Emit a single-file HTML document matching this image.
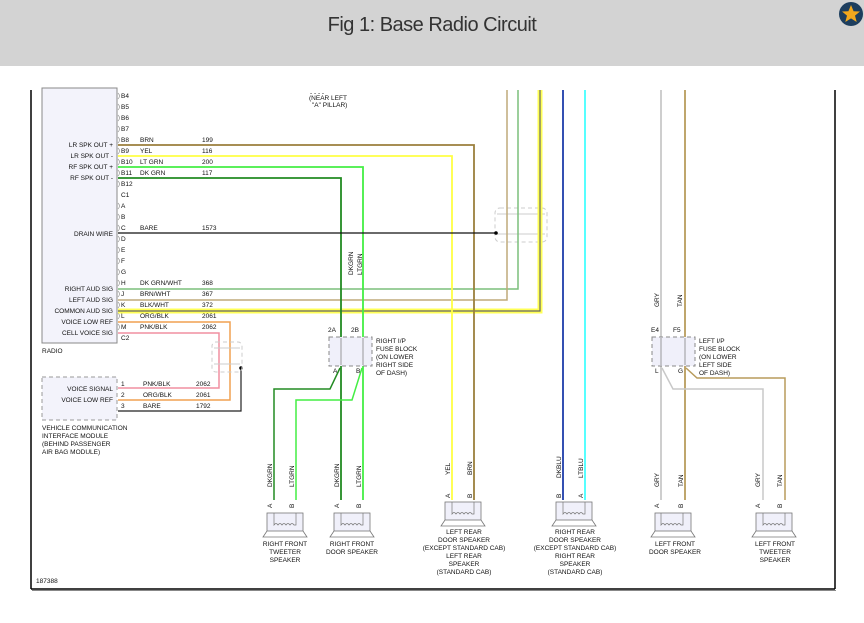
<!DOCTYPE html>
<html><head><meta charset="utf-8"><style>
html,body{margin:0;padding:0;background:#fff;}
body{width:864px;height:623px;overflow:hidden;position:relative;font-family:"Liberation Sans",sans-serif;}
.hdr{position:absolute;left:0;top:0;width:864px;height:66px;background:#d3d3d3;}
.hdr h1{margin:0;position:absolute;top:14px;left:0;width:864px;text-align:center;font-weight:normal;font-size:20px;color:#333;font-family:"Liberation Sans Narrow","Liberation Sans",sans-serif;letter-spacing:-0.5px;}
svg{position:absolute;left:0;top:0;}
svg text{font-family:"Liberation Sans",sans-serif;font-size:6.5px;fill:#111;}
</style></head><body>
<div class="hdr"><h1>Fig 1: Base Radio Circuit</h1></div>
<svg width="864" height="623" viewBox="0 0 864 623">
<circle cx="851" cy="14" r="12" fill="#1d3e5e"/>
<polygon points="851,5 853.6,11.2 860,11.5 855,15.6 856.7,22 851,18.4 845.3,22 847,15.6 842,11.5 848.4,11.2" fill="#f2a81d"/>
<line x1="31" y1="90" x2="31" y2="589" stroke="#000" stroke-width="1.5"/>
<line x1="835" y1="90" x2="835" y2="589" stroke="#000" stroke-width="1.5"/>
<line x1="31" y1="589" x2="835" y2="589" stroke="#000" stroke-width="1.5"/>
<line x1="32" y1="590.5" x2="836" y2="590.5" stroke="#888" stroke-width="1"/>
<rect x="42" y="88" width="75" height="255" fill="#f3f3fb" stroke="#888" stroke-width="1"/>
<text x="42" y="353">RADIO</text>
<g>
<text x="121" y="98">B4</text><text x="121" y="109">B5</text><text x="121" y="120">B6</text><text x="121" y="131">B7</text>
<text x="121" y="142">B8</text><text x="121" y="153">B9</text><text x="121" y="164">B10</text><text x="121" y="175">B11</text>
<text x="121" y="186">B12</text><text x="121" y="197">C1</text><text x="121" y="208">A</text><text x="121" y="219">B</text>
<text x="121" y="230">C</text><text x="121" y="241">D</text><text x="121" y="252">E</text><text x="121" y="263">F</text>
<text x="121" y="274">G</text><text x="121" y="285">H</text><text x="121" y="296">J</text><text x="121" y="307">K</text>
<text x="121" y="318">L</text><text x="121" y="329">M</text><text x="121" y="340">C2</text>
</g>
<g stroke="#999" fill="none" stroke-width="0.7">
<path d="M118,93 q3,3 0,6 M118,104 q3,3 0,6 M118,115 q3,3 0,6 M118,126 q3,3 0,6 M118,137 q3,3 0,6 M118,148 q3,3 0,6 M118,159 q3,3 0,6 M118,170 q3,3 0,6 M118,181 q3,3 0,6 M118,203 q3,3 0,6 M118,214 q3,3 0,6 M118,225 q3,3 0,6 M118,236 q3,3 0,6 M118,247 q3,3 0,6 M118,258 q3,3 0,6 M118,269 q3,3 0,6 M118,280 q3,3 0,6 M118,291 q3,3 0,6 M118,302 q3,3 0,6 M118,313 q3,3 0,6 M118,324 q3,3 0,6"/>
</g>
<g>
<text x="113" y="147" text-anchor="end">LR SPK OUT +</text>
<text x="113" y="158" text-anchor="end">LR SPK OUT -</text>
<text x="113" y="169" text-anchor="end">RF SPK OUT +</text>
<text x="113" y="180" text-anchor="end">RF SPK OUT -</text>
<text x="113" y="236" text-anchor="end">DRAIN WIRE</text>
<text x="113" y="291" text-anchor="end">RIGHT AUD SIG</text>
<text x="113" y="302" text-anchor="end">LEFT AUD SIG</text>
<text x="113" y="313" text-anchor="end">COMMON AUD SIG</text>
<text x="113" y="324" text-anchor="end">VOICE LOW REF</text>
<text x="113" y="335" text-anchor="end">CELL VOICE SIG</text>
</g>
<text x="140" y="142">BRN</text><text x="202" y="142">199</text>
<text x="140" y="153">YEL</text><text x="202" y="153">116</text>
<text x="140" y="164">LT GRN</text><text x="202" y="164">200</text>
<text x="140" y="175">DK GRN</text><text x="202" y="175">117</text>
<text x="140" y="230">BARE</text><text x="202" y="230">1573</text>
<text x="140" y="285">DK GRN/WHT</text><text x="202" y="285">368</text>
<text x="140" y="296">BRN/WHT</text><text x="202" y="296">367</text>
<text x="140" y="307">BLK/WHT</text><text x="202" y="307">372</text>
<text x="140" y="318">ORG/BLK</text><text x="202" y="318">2061</text>
<text x="140" y="329">PNK/BLK</text><text x="202" y="329">2062</text>
<text x="310" y="95">- - - -</text>
<text x="309" y="100">(NEAR LEFT</text>
<text x="312" y="107">"A" PILLAR)</text>
<rect x="495" y="208" width="52" height="34" rx="5" fill="none" stroke="#ccc" stroke-dasharray="4,3"/>
<line x1="497" y1="214" x2="545" y2="214" stroke="#ccc"/>
<line x1="497" y1="234" x2="545" y2="234" stroke="#ccc"/>
<g fill="none">
<polyline points="540,90 540,311 118,311" stroke="#ffff55" stroke-width="5"/>
<polyline points="540,90 540,311 118,311" stroke="#666" stroke-width="1.2"/>
<polyline points="518,90 518,289 118,289" stroke="#7cbf7c" stroke-width="1.5"/>
<polyline points="507,90 507,300 118,300" stroke="#bfaa7a" stroke-width="1.5"/>
<polyline points="118,145 474,145 474,500" stroke="#9b7f3c" stroke-width="1.8"/>
<polyline points="118,156 452,156 452,500" stroke="#ffff44" stroke-width="1.8"/>
<polyline points="118,167 363,167 363,340" stroke="#44ee44" stroke-width="1.8"/>
<polyline points="118,178 341,178 341,340" stroke="#228b22" stroke-width="1.8"/>
<polyline points="118,233 496,233" stroke="#111" stroke-width="1.3"/>
<line x1="563" y1="90" x2="563" y2="500" stroke="#1e3caa" stroke-width="1.8"/>
<line x1="585" y1="90" x2="585" y2="500" stroke="#44ffff" stroke-width="1.8"/>
<line x1="661" y1="90" x2="661" y2="340" stroke="#c8c8c8" stroke-width="1.8"/>
<line x1="685" y1="90" x2="685" y2="340" stroke="#b89c5c" stroke-width="1.8"/>
<polyline points="341,366 341,500" stroke="#228b22" stroke-width="1.8"/>
<polyline points="363,366 363,500" stroke="#44ee44" stroke-width="1.8"/>
<polyline points="340,368 330,389 274,389 274,500" stroke="#228b22" stroke-width="1.5"/>
<polyline points="362,368 352,400 296,400 296,500" stroke="#44ee44" stroke-width="1.5"/>
<polyline points="661,366 661,500" stroke="#c8c8c8" stroke-width="1.8"/>
<polyline points="685,366 685,500" stroke="#b89c5c" stroke-width="1.8"/>
<polyline points="662,368 673,389 763,389 763,500" stroke="#c8c8c8" stroke-width="1.5"/>
<polyline points="686,368 697,378 785,378 785,500" stroke="#b89c5c" stroke-width="1.5"/>
<polyline points="118,322 230,322 230,400 118,400" stroke="#f0a050" stroke-width="1.5"/>
<polyline points="118,333 219,333 219,388 118,388" stroke="#f08fa0" stroke-width="1.5"/>
<polyline points="241,368 241,411 118,411" stroke="#222" stroke-width="1.2"/>
</g>
<circle cx="496" cy="233" r="1.8" fill="#000"/>
<circle cx="241" cy="368" r="1.8" fill="#000"/>
<rect x="212" y="342" width="30" height="30" rx="4" fill="none" stroke="#ccc" stroke-dasharray="4,3"/>
<line x1="214" y1="348" x2="240" y2="348" stroke="#ccc"/>
<line x1="214" y1="364" x2="240" y2="364" stroke="#ccc"/>
<rect x="42" y="377" width="75" height="43" fill="#f3f3fb" stroke="#999" stroke-dasharray="4,3"/>
<text x="113" y="391" text-anchor="end">VOICE SIGNAL</text>
<text x="113" y="402" text-anchor="end">VOICE LOW REF</text>
<text x="121" y="386">1</text><text x="121" y="397">2</text><text x="121" y="408">3</text>
<text x="143" y="386">PNK/BLK</text><text x="196" y="386">2062</text>
<text x="143" y="397">ORG/BLK</text><text x="196" y="397">2061</text>
<text x="143" y="408">BARE</text><text x="196" y="408">1792</text>
<text x="42" y="430">VEHICLE COMMUNICATION</text>
<text x="42" y="438">INTERFACE MODULE</text>
<text x="42" y="446">(BEHIND PASSENGER</text>
<text x="42" y="454">AIR BAG MODULE)</text>
<g>
<rect x="329" y="337" width="43" height="29" fill="#f0f0fa" stroke="#888" stroke-dasharray="4,3"/>
<line x1="341" y1="338" x2="341" y2="365" stroke="#999"/>
<line x1="363" y1="338" x2="363" y2="365" stroke="#999"/>
<text x="328" y="332">2A</text><text x="351" y="332">2B</text>
<text x="333" y="373">A</text><text x="356" y="373">B</text>
<text x="376" y="343">RIGHT I/P</text><text x="376" y="351">FUSE BLOCK</text><text x="376" y="359">(ON LOWER</text><text x="376" y="367">RIGHT SIDE</text><text x="376" y="375">OF DASH)</text>
<rect x="652" y="337" width="43" height="29" fill="#f0f0fa" stroke="#888" stroke-dasharray="4,3"/>
<line x1="661" y1="338" x2="661" y2="365" stroke="#999"/>
<line x1="685" y1="338" x2="685" y2="365" stroke="#999"/>
<text x="651" y="332">E4</text><text x="673" y="332">F5</text>
<text x="655" y="373">L</text><text x="678" y="373">G</text>
<text x="699" y="343">LEFT I/P</text><text x="699" y="351">FUSE BLOCK</text><text x="699" y="359">(ON LOWER</text><text x="699" y="367">LEFT SIDE</text><text x="699" y="375">OF DASH)</text>
</g>
<g>
<text transform="translate(353,275) rotate(-90)">DKGRN</text>
<text transform="translate(362,275) rotate(-90)">LTGRN</text>
<text transform="translate(659,307) rotate(-90)">GRY</text>
<text transform="translate(682,307) rotate(-90)">TAN</text>
<text transform="translate(272,487) rotate(-90)">DKGRN</text>
<text transform="translate(294,487) rotate(-90)">LTGRN</text>
<text transform="translate(339,487) rotate(-90)">DKGRN</text>
<text transform="translate(361,487) rotate(-90)">LTGRN</text>
<text transform="translate(450,475) rotate(-90)">YEL</text>
<text transform="translate(472,475) rotate(-90)">BRN</text>
<text transform="translate(561,478) rotate(-90)">DKBLU</text>
<text transform="translate(583,478) rotate(-90)">LTBLU</text>
<text transform="translate(659,487) rotate(-90)">GRY</text>
<text transform="translate(683,487) rotate(-90)">TAN</text>
<text transform="translate(760,487) rotate(-90)">GRY</text>
<text transform="translate(782,487) rotate(-90)">TAN</text>
<text transform="translate(272,508) rotate(-90)">A</text><text transform="translate(294,508) rotate(-90)">B</text>
<text transform="translate(339,508) rotate(-90)">A</text><text transform="translate(361,508) rotate(-90)">B</text>
<text transform="translate(450,498) rotate(-90)">A</text><text transform="translate(472,498) rotate(-90)">B</text>
<text transform="translate(561,498) rotate(-90)">B</text><text transform="translate(583,498) rotate(-90)">A</text>
<text transform="translate(659,508) rotate(-90)">A</text><text transform="translate(683,508) rotate(-90)">B</text>
<text transform="translate(760,508) rotate(-90)">A</text><text transform="translate(782,508) rotate(-90)">B</text>
</g>
<g fill="#f0f0fa" stroke="#777" stroke-width="0.8">
<rect x="267" y="513" width="36" height="18"/><path d="M267,531 l-4,6 h44 l-4,-6" fill="none"/>
<rect x="334" y="513" width="36" height="18"/><path d="M334,531 l-4,6 h44 l-4,-6" fill="none"/>
<rect x="445" y="502" width="36" height="18"/><path d="M445,520 l-4,6 h44 l-4,-6" fill="none"/>
<rect x="556" y="502" width="36" height="18"/><path d="M556,520 l-4,6 h44 l-4,-6" fill="none"/>
<rect x="655" y="513" width="36" height="18"/><path d="M655,531 l-4,6 h44 l-4,-6" fill="none"/>
<rect x="756" y="513" width="36" height="18"/><path d="M756,531 l-4,6 h44 l-4,-6" fill="none"/>
</g>
<g fill="none" stroke="#777" stroke-width="0.7">
<path d="M274,513 v12 q2,-3 4,0 q2,-3 4,0 q2,-3 4,0 q2,-3 4,0 q2,-3 4,0 q1,0 2,0 v-12"/>
<path d="M341,513 v12 q2,-3 4,0 q2,-3 4,0 q2,-3 4,0 q2,-3 4,0 q2,-3 4,0 q1,0 2,0 v-12"/>
<path d="M452,502 v12 q2,-3 4,0 q2,-3 4,0 q2,-3 4,0 q2,-3 4,0 q2,-3 4,0 q1,0 2,0 v-12"/>
<path d="M563,502 v12 q2,-3 4,0 q2,-3 4,0 q2,-3 4,0 q2,-3 4,0 q2,-3 4,0 q1,0 2,0 v-12"/>
<path d="M661,513 v12 q2,-3 4,0 q2,-3 4,0 q2,-3 4,0 q2,-3 4,0 q2,-3 4,0 q1,0 2,0 v-12"/>
<path d="M763,513 v12 q2,-3 4,0 q2,-3 4,0 q2,-3 4,0 q2,-3 4,0 q2,-3 4,0 q1,0 2,0 v-12"/>
</g>
<g>
<text x="285" y="546" text-anchor="middle">RIGHT FRONT</text><text x="285" y="554" text-anchor="middle">TWEETER</text><text x="285" y="562" text-anchor="middle">SPEAKER</text>
<text x="352" y="546" text-anchor="middle">RIGHT FRONT</text><text x="352" y="554" text-anchor="middle">DOOR SPEAKER</text>
<text x="464" y="534" text-anchor="middle">LEFT REAR</text><text x="464" y="542" text-anchor="middle">DOOR SPEAKER</text><text x="464" y="550" text-anchor="middle">(EXCEPT STANDARD CAB)</text><text x="464" y="558" text-anchor="middle">LEFT REAR</text><text x="464" y="566" text-anchor="middle">SPEAKER</text><text x="464" y="574" text-anchor="middle">(STANDARD CAB)</text>
<text x="575" y="534" text-anchor="middle">RIGHT REAR</text><text x="575" y="542" text-anchor="middle">DOOR SPEAKER</text><text x="575" y="550" text-anchor="middle">(EXCEPT STANDARD CAB)</text><text x="575" y="558" text-anchor="middle">RIGHT REAR</text><text x="575" y="566" text-anchor="middle">SPEAKER</text><text x="575" y="574" text-anchor="middle">(STANDARD CAB)</text>
<text x="675" y="546" text-anchor="middle">LEFT FRONT</text><text x="675" y="554" text-anchor="middle">DOOR SPEAKER</text>
<text x="775" y="546" text-anchor="middle">LEFT FRONT</text><text x="775" y="554" text-anchor="middle">TWEETER</text><text x="775" y="562" text-anchor="middle">SPEAKER</text>
</g>
<text x="36" y="583">187388</text>
</svg>
</body></html>
